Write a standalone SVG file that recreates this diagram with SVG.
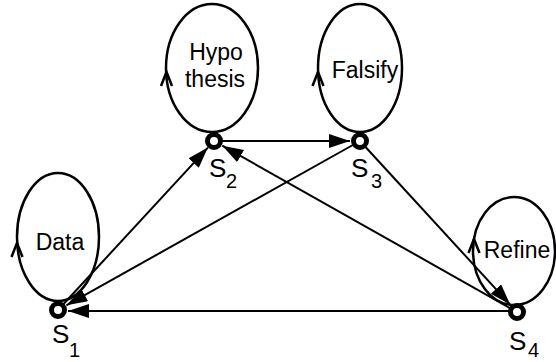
<svg xmlns="http://www.w3.org/2000/svg" width="556" height="362" viewBox="0 0 556 362">
  <style>
    .loop { fill: none; stroke: #000; stroke-width: 2.5; }
    .chev { fill: none; stroke: #000; stroke-width: 2.5; stroke-linejoin: miter; }
    .state { fill: #fff; stroke: #000; stroke-width: 5; }
    .edge { fill: none; stroke: #000; stroke-width: 2; }
    .lbl { font-family: "Liberation Sans", Arial, sans-serif; font-size: 23px; fill: #000; text-anchor: middle; }
    .s { font-family: "Liberation Sans", Arial, sans-serif; font-size: 26px; fill: #000; }
    .sub { font-family: "Liberation Sans", Arial, sans-serif; font-size: 20px; fill: #000; }
  </style>
  <defs>
    <marker id="head" markerUnits="userSpaceOnUse" markerWidth="23" markerHeight="15" refX="21" refY="7" orient="auto">
      <path d="M0,0 L21,7 L0,14 z" fill="#000"/>
    </marker>
  </defs>

  <!-- transitions between states -->
  <g id="connectors">
    <line class="edge" x1="58" y1="310" x2="207.9" y2="147.6" marker-end="url(#head)"/>
    <line class="edge" x1="214" y1="141" x2="350" y2="141" marker-end="url(#head)"/>
    <line class="edge" x1="360" y1="141" x2="66.4" y2="305.3" marker-end="url(#head)"/>
    <line class="edge" x1="517" y1="312" x2="222.3" y2="145.7" marker-end="url(#head)"/>
    <line class="edge" x1="360" y1="141" x2="510.2" y2="304.6" marker-end="url(#head)"/>
    <line class="edge" x1="517" y1="311" x2="68" y2="311" marker-end="url(#head)"/>
  </g>

  <!-- S1: Data -->
  <g id="s1">
    <ellipse class="loop" cx="58" cy="237" rx="41" ry="64"/>
    <polyline class="chev" points="11.5,257 17,243 22.5,257"/>
    <text class="lbl" x="60" y="250">Data</text>
    <circle class="state" cx="58" cy="310" r="6.5"/>
    <text class="s" x="52" y="343">S</text>
    <text class="sub" x="69" y="357">1</text>
  </g>

  <!-- S2: Hypothesis -->
  <g id="s2">
    <ellipse class="loop" cx="212" cy="68" rx="46" ry="64"/>
    <polyline class="chev" points="161,86 166.5,72 172,86"/>
    <text class="lbl" x="216" y="60">Hypo</text>
    <text class="lbl" x="215" y="87">thesis</text>
    <circle class="state" cx="214" cy="141" r="6.5"/>
    <text class="s" x="209" y="177">S</text>
    <text class="sub" x="226" y="188">2</text>
  </g>

  <!-- S3: Falsify -->
  <g id="s3">
    <ellipse class="loop" cx="360" cy="68" rx="42" ry="64"/>
    <polyline class="chev" points="312.5,86 318,72 323.5,86"/>
    <text class="lbl" x="365" y="78">Falsify</text>
    <circle class="state" cx="360" cy="141" r="6.5"/>
    <text class="s" x="351" y="177">S</text>
    <text class="sub" x="371" y="188">3</text>
  </g>

  <!-- S4: Refine -->
  <g id="s4">
    <ellipse class="loop" cx="514" cy="251" rx="41" ry="54"/>
    <polyline class="chev" points="468.5,253 474,239 479.5,253"/>
    <text class="lbl" x="517" y="258">Refine</text>
    <circle class="state" cx="517" cy="312" r="6.5"/>
    <text class="s" x="509" y="350">S</text>
    <text class="sub" x="528" y="357">4</text>
  </g>
</svg>
